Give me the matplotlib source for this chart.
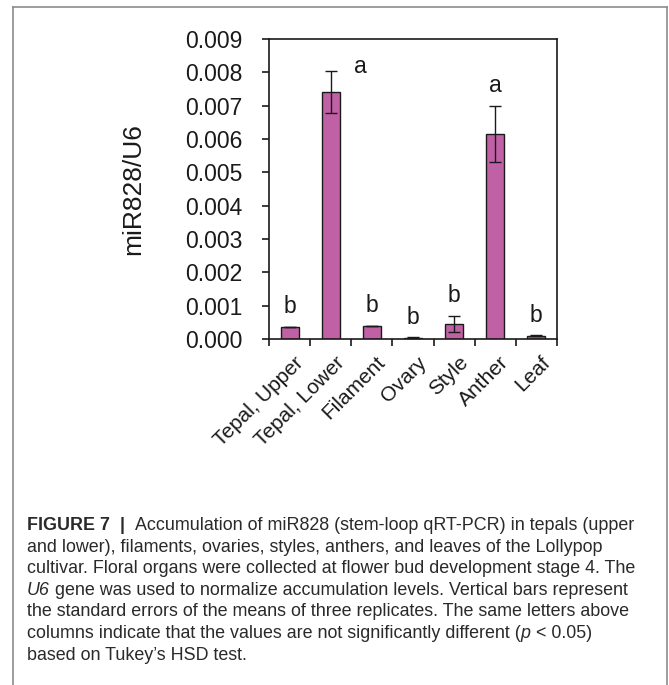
import matplotlib

matplotlib.use("Agg")
import matplotlib.pyplot as plt  # noqa: E402
from matplotlib.lines import Line2D  # noqa: E402
from matplotlib.ticker import FixedLocator, FormatStrFormatter  # noqa: E402
from matplotlib.transforms import offset_copy  # noqa: E402

# miR828 accumulation relative to U6, mean and SE of three replicates
organs = ["Tepal, Upper", "Tepal, Lower", "Filament", "Ovary", "Style", "Anther", "Leaf"]
mean_level = [0.00036, 0.00742, 0.00039, 0.00004, 0.00045, 0.00615, 0.00010]
se_level = [0.00001, 0.00063, 0.00001, 0.00001, 0.00025, 0.00085, 0.00001]
tukey_group = ["b", "a", "b", "b", "b", "a", "b"]

yticks = [0.000, 0.001, 0.002, 0.003, 0.004, 0.005, 0.006, 0.007, 0.008, 0.009]

# caption as lines of (text, style) runs
caption_lines = [
    [("FIGURE 7", "bold"), ("  |  ", "bold"),
     ("Accumulation of miR828 (stem-loop qRT-PCR) in tepals (upper", "normal")],
    [("and lower), filaments, ovaries, styles, anthers, and leaves of the Lollypop", "normal")],
    [("cultivar. Floral organs were collected at flower bud development stage 4. The", "normal")],
    [("U6", "italic"),
     (" gene was used to normalize accumulation levels. Vertical bars represent", "normal")],
    [("the standard errors of the means of three replicates. The same letters above", "normal")],
    [("columns indicate that the values are not significantly different (", "normal"),
     ("p", "italic"), (" < 0.05)", "normal")],
    [("based on Tukey\u2019s HSD test.", "normal")],
]

BAR = "#c061a6"
INK = "#1a1a1a"
FRAME = "#8c8c8c"

plt.rcParams["font.family"] = ["Liberation Sans", "DejaVu Sans"]

W, H = 669, 685
fig = plt.figure(figsize=(W / 100, H / 100), dpi=100)
fig.patch.set_facecolor("white")

# outer frame of the figure panel (open at the bottom)
fig.add_artist(Line2D([13 / W, 13 / W], [0, 1 - 7 / H], color=FRAME, lw=1.2))
fig.add_artist(Line2D([13 / W, 667 / W], [1 - 7 / H, 1 - 7 / H], color=FRAME, lw=1.2))
fig.add_artist(Line2D([667 / W, 667 / W], [0, 1 - 7 / H], color=FRAME, lw=1.2))

ax = fig.add_axes([269 / W, 1 - 339 / H, 288 / W, 300 / H])
xs = [i + 0.5 for i in range(len(organs))]
ax.bar(xs, mean_level, width=0.44, color=BAR, edgecolor=INK, linewidth=1.0, zorder=2)
ax.errorbar(xs, mean_level, yerr=se_level, fmt="none", ecolor=INK, elinewidth=1.0,
            capsize=4, capthick=1.0, zorder=3)

for i, (m, s, g) in enumerate(zip(mean_level, se_level, tukey_group)):
    if i == 1:
        # letter sits beside the tall error bar
        ax.annotate(g, (xs[i], m + s), xytext=(30, 4), textcoords="offset pixels",
                    ha="center", va="center", fontsize=16.5, color=INK)
    else:
        ax.annotate(g, (xs[i], m + s), xytext=(0, 20), textcoords="offset pixels",
                    ha="center", va="center", fontsize=16.5, color=INK)

ax.set_xlim(0, len(organs))
ax.set_ylim(0, 0.009)
ax.yaxis.set_major_locator(FixedLocator(yticks))
ax.yaxis.set_major_formatter(FormatStrFormatter("%.3f"))
ax.xaxis.set_major_locator(FixedLocator(range(len(organs) + 1)))
ax.set_xticklabels([""] * (len(organs) + 1))
for x, name in zip(xs, organs):
    ax.annotate(name, (x, 0), xytext=(4, -14), textcoords="offset pixels",
                rotation=45, ha="right", va="top", rotation_mode="anchor",
                fontsize=15, color=INK, annotation_clip=False)

ax.tick_params(axis="both", direction="out", length=5, width=1.2, colors=INK,
               labelsize=16.5)
ax.tick_params(axis="y", pad=14)
for side in ax.spines.values():
    side.set_linewidth(1.2)
    side.set_color(INK)
ax.set_ylabel("miR828/U6", fontsize=19, color=INK, va="center")
ax.yaxis.set_label_coords((133 - 269) / 288, 0.5)

# caption: draw each run right after the previous one
renderer = fig.canvas.get_renderer()
y0 = 525
for k, runs in enumerate(caption_lines):
    x_px = 27
    for text, style in runs:
        t = fig.text(0, 0, text, fontsize=12.9, color="#2a2a2a", ha="left", va="baseline",
                     fontweight="bold" if style == "bold" else "normal",
                     fontstyle="italic" if style == "italic" else "normal",
                     transform=offset_copy(fig.transFigure, fig=fig, x=x_px, y=H - (y0 + 21.6 * k) - 5,
                                           units="dots"))
        x_px += t.get_window_extent(renderer).width

fig.savefig("out.png", dpi=100, facecolor="white")
